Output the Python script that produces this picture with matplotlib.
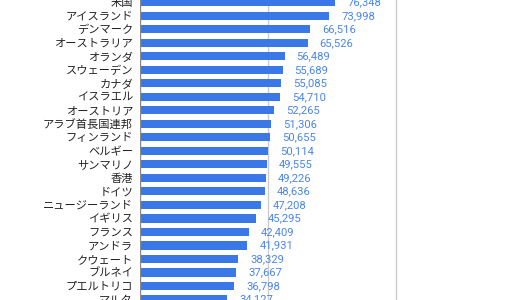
import matplotlib
matplotlib.use("Agg")
import matplotlib.pyplot as plt

countries = ["米国", "アイスランド", "デンマーク", "オーストラリア", "オランダ", "スウェーデン",
             "カナダ", "イスラエル", "オーストリア", "アラブ首長国連邦", "フィンランド", "ベルギー",
             "サンマリノ", "香港", "ドイツ", "ニュージーランド", "イギリス", "フランス",
             "アンドラ", "クウェート", "ブルネイ", "プエルトリコ", "マルタ"]
values = [76348, 73998, 66516, 65526, 56489, 55689, 55085, 54710, 52265, 51306, 50655, 50114,
          49555, 49226, 48636, 47208, 45295, 42409, 41931, 38329, 37667, 36798, 34127]
gridlines = [50000, 100000]

fig = plt.figure(figsize=(5.2, 3.0), dpi=100)
ax = fig.add_axes([140/520, 0, 256/520, 1])
ypos = list(range(len(values)))
ax.barh(ypos, values, height=0.62, color="#3b78e7", zorder=2)
ax.set_xlim(0, 100000)
ax.set_ylim(22.05, -0.17)
for g in gridlines:
    ax.axvline(g, color="#cccccc", lw=1, zorder=1, clip_on=False)
ax.axvline(0, color="#888888", lw=1, zorder=3)
for s in ax.spines.values():
    s.set_visible(False)
ax.set_xticks([])
ax.set_yticks(ypos)
ax.set_yticklabels(countries, family=["Noto Sans CJK JP", "DejaVu Sans"], fontsize=8.1, color="#222222")
ax.tick_params(axis="y", length=0, pad=5)
for y, v in zip(ypos, values):
    ax.annotate(f"{v:,}", (v, y), xytext=(12, 0), textcoords="offset pixels",
                va="center", ha="left", fontsize=8.1, family="Roboto", color="#4a86e8")
fig.savefig("out.png", dpi=100)
